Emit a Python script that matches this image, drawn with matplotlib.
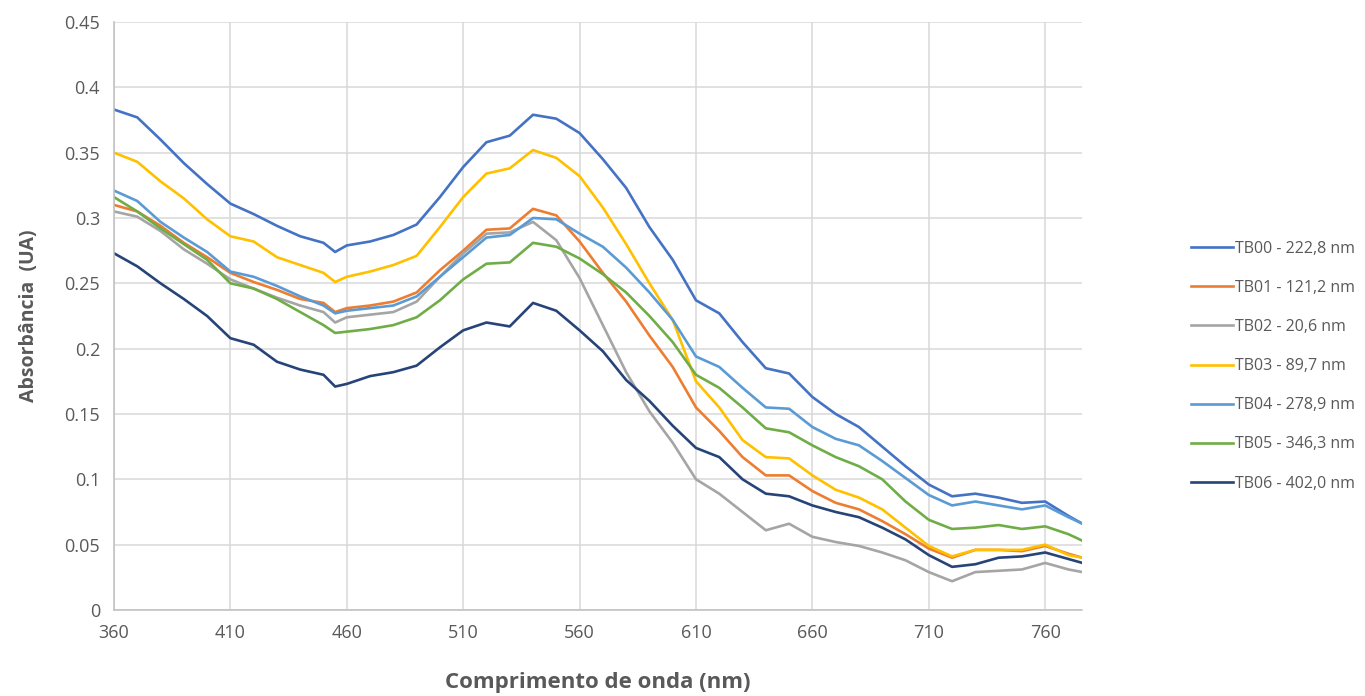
import numpy as np
import matplotlib
matplotlib.use("Agg")
import matplotlib.pyplot as plt

plt.rcParams['font.family'] = ['Open Sans', 'DejaVu Sans']

# wavelength grid (nm)
wavelength = [360, 370, 380, 390, 400, 410, 420, 430, 440, 450, 455, 460, 470,
              480, 490, 500, 510, 520, 530, 540, 550, 560, 570, 580, 590, 600,
              610, 620, 630, 640, 650, 660, 670, 680, 690, 700, 710, 720, 730,
              740, 750, 760, 770, 776]

tb00 = [0.383, 0.377, 0.360, 0.342, 0.326, 0.311, 0.303, 0.294, 0.286, 0.281,
        0.274, 0.279, 0.282, 0.287, 0.295, 0.316, 0.339, 0.358, 0.363, 0.379,
        0.376, 0.365, 0.345, 0.323, 0.293, 0.268, 0.237, 0.227, 0.205, 0.185,
        0.181, 0.163, 0.150, 0.140, 0.125, 0.110, 0.096, 0.087, 0.089, 0.086,
        0.082, 0.083, 0.072, 0.066]
tb01 = [0.310, 0.305, 0.294, 0.281, 0.270, 0.258, 0.251, 0.245, 0.238, 0.235,
        0.228, 0.231, 0.233, 0.236, 0.243, 0.260, 0.275, 0.291, 0.292, 0.307,
        0.302, 0.282, 0.258, 0.236, 0.210, 0.186, 0.155, 0.137, 0.117, 0.103,
        0.103, 0.091, 0.082, 0.077, 0.068, 0.058, 0.047, 0.040, 0.046, 0.046,
        0.045, 0.049, 0.043, 0.040]
tb02 = [0.305, 0.301, 0.290, 0.276, 0.265, 0.253, 0.246, 0.239, 0.233, 0.228,
        0.220, 0.224, 0.226, 0.228, 0.236, 0.255, 0.273, 0.288, 0.289, 0.297,
        0.283, 0.254, 0.218, 0.182, 0.152, 0.128, 0.100, 0.089, 0.075, 0.061,
        0.066, 0.056, 0.052, 0.049, 0.044, 0.038, 0.029, 0.022, 0.029, 0.030,
        0.031, 0.036, 0.031, 0.029]
tb03 = [0.350, 0.343, 0.328, 0.315, 0.299, 0.286, 0.282, 0.270, 0.264, 0.258,
        0.251, 0.255, 0.259, 0.264, 0.271, 0.293, 0.316, 0.334, 0.338, 0.352,
        0.346, 0.332, 0.308, 0.280, 0.250, 0.222, 0.175, 0.155, 0.130, 0.117,
        0.116, 0.103, 0.092, 0.086, 0.077, 0.063, 0.049, 0.041, 0.046, 0.046,
        0.046, 0.050, 0.042, 0.040]
tb04 = [0.321, 0.313, 0.297, 0.285, 0.274, 0.259, 0.255, 0.248, 0.240, 0.233,
        0.227, 0.229, 0.231, 0.233, 0.240, 0.255, 0.270, 0.285, 0.287, 0.300,
        0.299, 0.288, 0.278, 0.262, 0.243, 0.222, 0.194, 0.186, 0.170, 0.155,
        0.154, 0.140, 0.131, 0.126, 0.114, 0.101, 0.088, 0.080, 0.083, 0.080,
        0.077, 0.080, 0.071, 0.066]
tb05 = [0.316, 0.305, 0.292, 0.280, 0.268, 0.250, 0.246, 0.238, 0.228, 0.218,
        0.212, 0.213, 0.215, 0.218, 0.224, 0.237, 0.253, 0.265, 0.266, 0.281,
        0.278, 0.269, 0.257, 0.243, 0.225, 0.205, 0.180, 0.170, 0.155, 0.139,
        0.136, 0.126, 0.117, 0.110, 0.100, 0.083, 0.069, 0.062, 0.063, 0.065,
        0.062, 0.064, 0.058, 0.053]
tb06 = [0.273, 0.263, 0.250, 0.238, 0.225, 0.208, 0.203, 0.190, 0.184, 0.180,
        0.171, 0.173, 0.179, 0.182, 0.187, 0.201, 0.214, 0.220, 0.217, 0.235,
        0.229, 0.214, 0.198, 0.176, 0.160, 0.141, 0.124, 0.117, 0.100, 0.089,
        0.087, 0.080, 0.075, 0.071, 0.063, 0.054, 0.042, 0.033, 0.035, 0.040,
        0.041, 0.044, 0.039, 0.036]

labels = ['TB00 - 222,8 nm', 'TB01 - 121,2 nm', 'TB02 - 20,6 nm',
          'TB03 - 89,7 nm', 'TB04 - 278,9 nm', 'TB05 - 346,3 nm',
          'TB06 - 402,0 nm']
series = [tb00, tb01, tb02, tb03, tb04, tb05, tb06]
COLORS = ['#4472C4', '#ED7D31', '#A5A5A5', '#FFC000',
          '#5B9BD5', '#70AD47', '#264478']

x_ticks = [360, 410, 460, 510, 560, 610, 660, 710, 760]
y_ticks = [0, 0.05, 0.1, 0.15, 0.2, 0.25, 0.3, 0.35, 0.4, 0.45]
y_tick_labels = ['0', '0.05', '0.1', '0.15', '0.2', '0.25', '0.3',
                 '0.35', '0.4', '0.45']

fig = plt.figure(figsize=(13.65, 6.96), dpi=100)
ax = fig.add_axes([0.0835, 0.1236, 0.7095, 0.8448])

for data, name, c in zip(series, labels, COLORS):
  ax.plot(wavelength, data, color=c, linewidth=1.9, label=name)

ax.set_xlim(360, 776)
ax.set_ylim(0, 0.45)
ax.set_xticks(x_ticks)
ax.set_yticks(y_ticks)
ax.set_yticklabels(y_tick_labels)
ax.grid(True, color='#d9d9d9', linewidth=1.1)
ax.set_axisbelow(True)
ax.tick_params(length=0, labelsize=13, colors='#595959', pad=10)

for side in ['top', 'right']:
  ax.spines[side].set_visible(False)
for side in ['left', 'bottom']:
  ax.spines[side].set_color('#bfbfbf')
  ax.spines[side].set_linewidth(1.1)

ax.set_xlabel('Comprimento de onda (nm)', fontsize=16, fontweight='bold',
              color='#595959', labelpad=22)
ax.set_ylabel('Absorbância  (UA)', fontsize=14, fontweight='bold',
              color='#595959', labelpad=18)

fig.legend(loc='center left', bbox_to_anchor=(0.862, 0.474), frameon=False,
           fontsize=11.5, handlelength=2.6, handletextpad=0.15,
           labelspacing=1.45, labelcolor='#595959')

plt.savefig("out.png")
